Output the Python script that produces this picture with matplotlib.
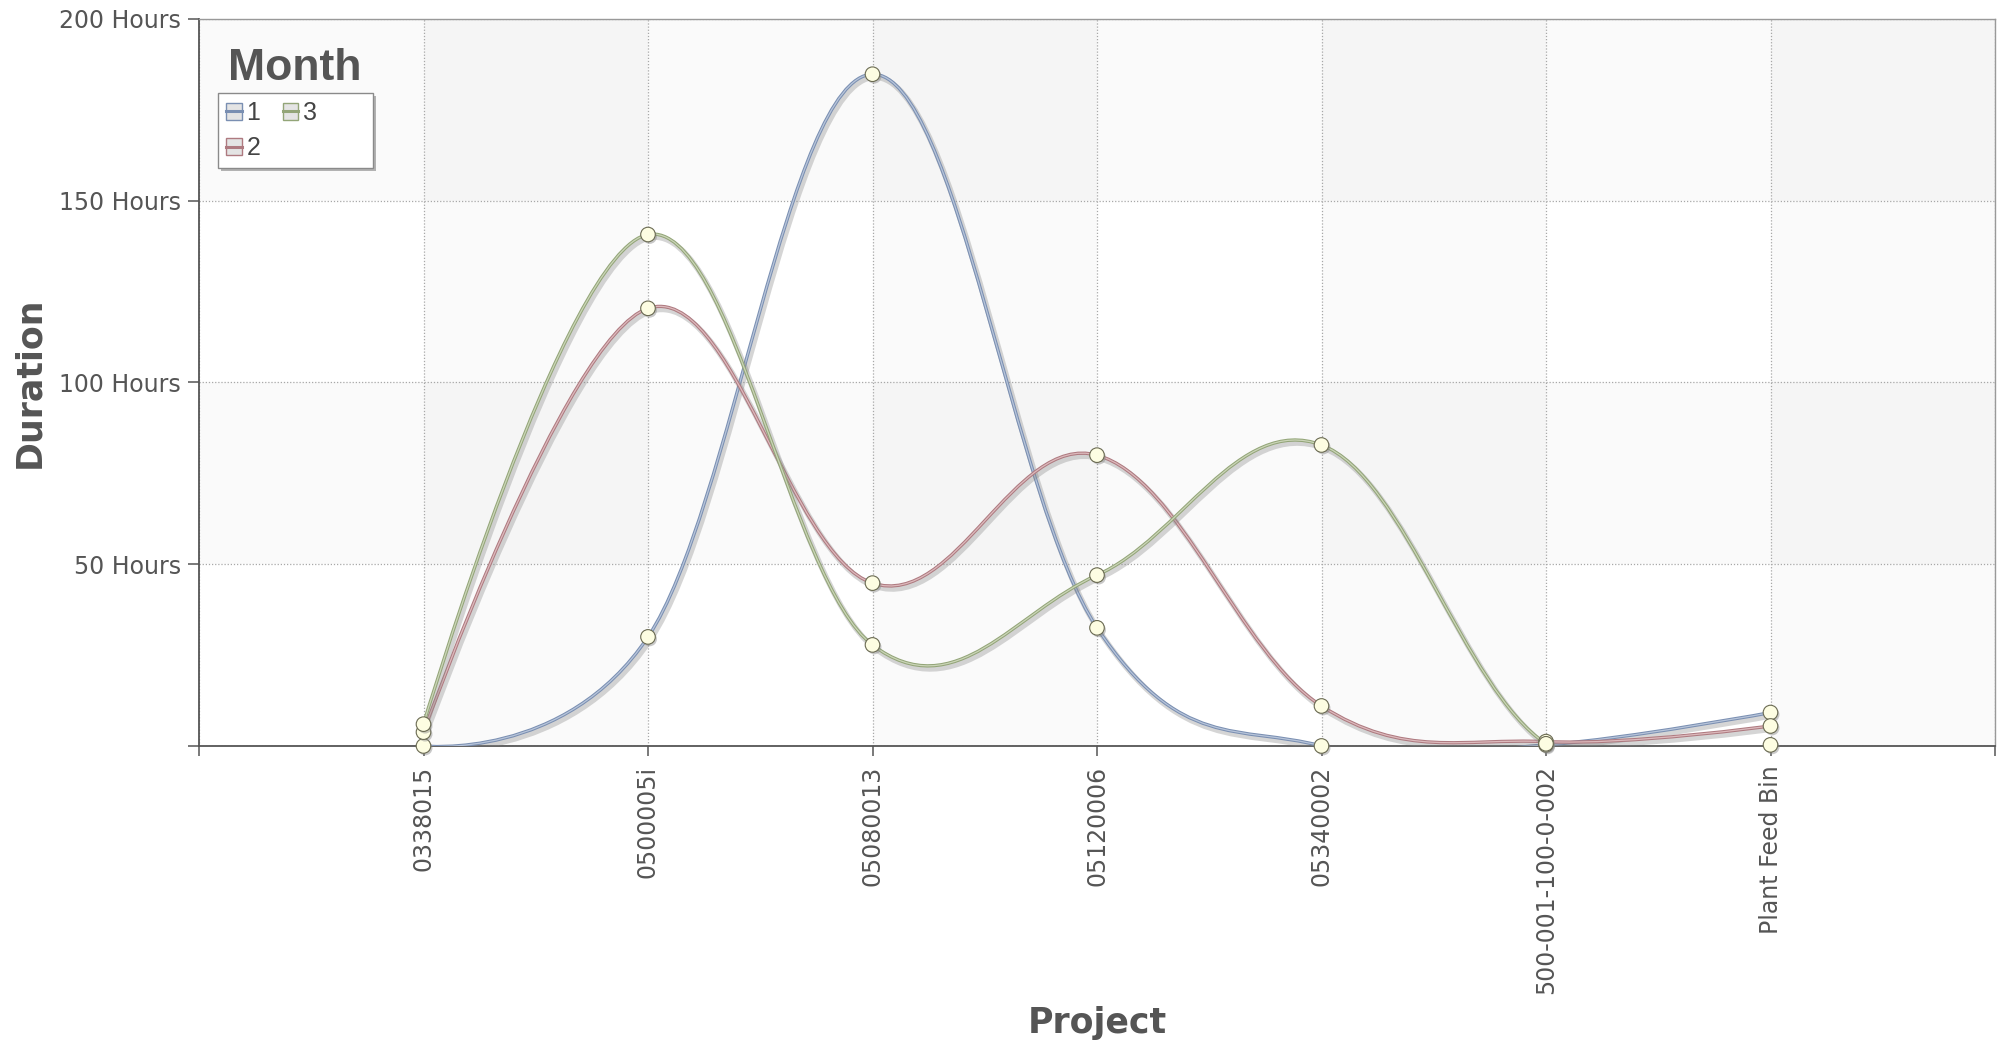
import numpy as np
import matplotlib
matplotlib.use('Agg')
import matplotlib.pyplot as plt
import matplotlib.patheffects as pe
from matplotlib.path import Path
from matplotlib.patches import PathPatch, Patch, Rectangle
from matplotlib.lines import Line2D

# data
projects = ['0338015', '0500005i', '05080013', '05120006', '05340002',
            '500-001-100-0-002', 'Plant Feed Bin']
months = ['1', '2', '3']
hours_month_1 = [0.0, 30.0, 184.8, 32.5, 0.0, 0.3, 9.2]
hours_month_2 = [3.8, 120.4, 44.8, 80.0, 11.0, 1.2, 5.5]
hours_month_3 = [6.0, 140.7, 27.8, 47.0, 82.8, 0.6, 0.3]
y_ticks = [0, 50, 100, 150, 200]

edge_colors = ['#7a8fb2', '#ae7a80', '#93a578']
inner_colors = ['#b8c5da', '#ddbabd', '#cbd5b8']
text_grey = '#555555'


def spline_path(xs, ys, k=0.37):
    # smooth curve through the points, built from cubic bezier segments
    xs = np.asarray(xs, float)
    ys = np.asarray(ys, float)
    n = len(xs)
    slope = np.zeros(n)
    slope[1:-1] = (ys[2:] - ys[:-2]) / (xs[2:] - xs[:-2])
    verts = [(xs[0], ys[0])]
    codes = [Path.MOVETO]
    for i in range(n - 1):
        dx = xs[i + 1] - xs[i]
        if i > 0:
            c1 = (xs[i] + k * dx, ys[i] + k * dx * slope[i])
        else:
            c1 = (xs[i], ys[i])
        if i + 1 < n - 1:
            c2 = (xs[i + 1] - k * dx, ys[i + 1] - k * dx * slope[i + 1])
        else:
            c2 = (xs[i + 1], ys[i + 1])
        verts += [c1, c2, (xs[i + 1], ys[i + 1])]
        codes += [Path.CURVE4] * 3
    return Path(verts, codes)


def main():
    series = [hours_month_1, hours_month_2, hours_month_3]
    x = np.arange(len(projects))

    fig = plt.figure(figsize=(20, 10.48), dpi=100)
    ax = fig.add_axes([0.0995, 0.2882, 0.898, 0.6937])
    ax.set_xlim(-1, len(projects))
    ax.set_ylim(0, 200)
    ax.set_facecolor('white')

    # alternating bands (columns and rows), overlapping into a checker look
    for i in range(0, len(projects), 2):
        ax.axvspan(i, i + 1, color='black', alpha=0.02, lw=0, zorder=0)
    for lo in (50, 150):
        ax.axhspan(lo, lo + 50, color='black', alpha=0.02, lw=0, zorder=0)

    ax.set_xticks(np.arange(-1, len(projects) + 1))
    ax.set_xticklabels([''] + projects + [''], rotation=90)
    ax.set_yticks(y_ticks)
    ax.set_yticklabels(['' if v == 0 else f'{v} Hours' for v in y_ticks])
    ax.tick_params(axis='x', length=7.5, width=1.1, color=text_grey, pad=6.5,
                   labelsize=17, labelcolor=text_grey)
    ax.tick_params(axis='y', length=8, width=1.1, color=text_grey, pad=5,
                   labelsize=17, labelcolor=text_grey)
    ax.grid(True, linestyle=(0, (1, 1.5)), color='#a8a8a8', linewidth=0.9, zorder=1)

    for side in ['left', 'bottom']:
        ax.spines[side].set_color(text_grey)
        ax.spines[side].set_linewidth(1.3)
    for side in ['top', 'right']:
        ax.spines[side].set_color('#999999')
        ax.spines[side].set_linewidth(1.0)

    for vals, ec, ic in zip(series, edge_colors, inner_colors):
        patch = PathPatch(spline_path(x, vals), fill=False, edgecolor=ic,
                          linewidth=0.9, zorder=3)
        patch.set_path_effects([
            pe.SimpleLineShadow(offset=(1.5, -2.2), shadow_color='#888888',
                                alpha=0.35, linewidth=4.0),
            pe.Stroke(linewidth=2.4, foreground=ec),
            pe.Normal()])
        ax.add_patch(patch)

    for vals in series:
        ax.plot(x, vals, linestyle='none', marker='o', markersize=10.5,
                markerfacecolor='#fdfde2', markeredgecolor='#6a6a52',
                markeredgewidth=0.8, zorder=4, clip_on=False,
                path_effects=[pe.SimplePatchShadow(offset=(1.2, -1.5),
                                                   shadow_rgbFace='#888888',
                                                   alpha=0.45),
                              pe.Normal()])

    ax.set_xlabel('Project', fontsize=25, fontweight='bold', color=text_grey)
    ax.xaxis.set_label_coords(0.5, -0.358)
    ax.set_ylabel('Duration', fontsize=25, fontweight='bold', color=text_grey)
    ax.yaxis.set_label_coords(-0.085, 0.5)

    # legend box drawn on its own so it keeps the wide, mostly empty frame
    box = Rectangle((0.0106, 0.795), 0.0863, 0.103, transform=ax.transAxes,
                    facecolor='white', edgecolor='#8a8a8a', linewidth=1.0,
                    zorder=5)
    box.set_path_effects([pe.SimplePatchShadow(offset=(2.2, -2.2),
                                               shadow_rgbFace='#777777', alpha=0.55),
                          pe.Normal()])
    ax.add_patch(box)

    handles = [(Patch(facecolor='#e4e4e4', edgecolor=ec, linewidth=1.0),
                Line2D([], [], color=ec, linewidth=2.2)) for ec in edge_colors]
    leg = ax.legend(handles, months, ncol=2, loc='upper left',
                    bbox_to_anchor=(0.0106, 0.898), borderaxespad=0,
                    frameon=False,
                    prop={'family': 'Liberation Sans', 'size': 18},
                    handlelength=0.62, handleheight=0.7, handletextpad=0.2,
                    columnspacing=0.9, labelspacing=0.45, borderpad=0.32)
    for t in leg.get_texts():
        t.set_color('#444444')
    leg.set_zorder(6)

    ax.text(0.0161, 0.916, 'Month', transform=ax.transAxes, ha='left',
            va='baseline', fontsize=32, fontweight='bold',
            family='Liberation Sans', color=text_grey, zorder=6)

    fig.savefig('out.png', dpi=100, facecolor='white')


if __name__ == '__main__':
    main()
